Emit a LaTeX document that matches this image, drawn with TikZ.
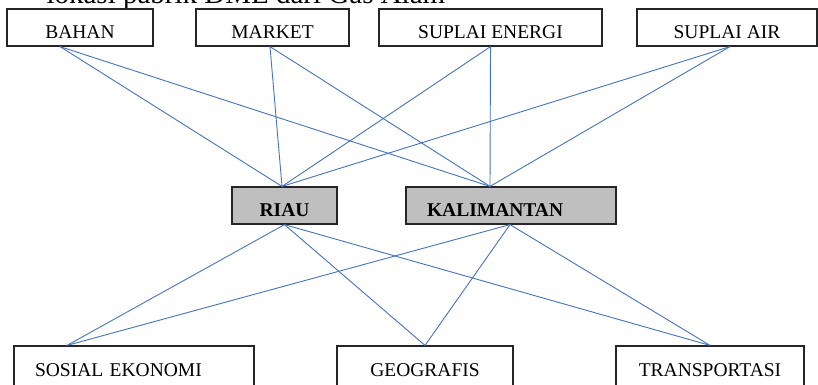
\documentclass[tikz,border=0pt]{standalone}
\usepackage{fontspec}
\setmainfont{Liberation Serif}
\definecolor{linkblue}{HTML}{4472C4}
\definecolor{hubgray}{HTML}{BFBFBF}
\begin{document}
\begin{tikzpicture}[x=1pt, y=-1pt,
    box/.style={draw=black!85, line width=1.2pt, minimum height=37pt,
      font=\fontsize{19.5}{22}\selectfont, text height=21pt, text depth=0pt},
    hub/.style={box, fill=hubgray, font=\fontsize{19.5}{22}\selectfont\bfseries},
    link/.style={draw=linkblue, line width=0.9pt}]
  \useasboundingbox (0,0) rectangle (818,384);
  \clip (0,0) rectangle (818,384);
  \node[anchor=base west, font=\fontsize{29}{34}\selectfont] (title) at (43,3) {lokasi pabrik DME dari Gas Alam};
  \node[box, minimum width=146pt] (bahan) at (80,27.5) {BAHAN};
  \node[box, minimum width=153pt] (market) at (272.5,27.5) {MARKET};
  \node[box, minimum width=223pt] (energi) at (490.5,27.5) {SUPLAI ENERGI};
  \node[box, minimum width=180pt] (air) at (727,27.5) {SUPLAI AIR};
  \node[hub, minimum width=105pt] (riau) at (284.5,205.5) {RIAU};
  \node[hub, minimum width=210pt, inner xsep=21pt, text width=168pt, align=left] (kalimantan) at (511,205.5) {KALIMANTAN};
  \node[box, minimum height=40pt, minimum width=240pt, inner xsep=21pt, text width=198pt, align=left] (sosial) at (134,366) {SOSIAL EKONOMI};
  \node[box, minimum height=40pt, minimum width=176pt] (geografis) at (425,366) {GEOGRAFIS};
  \node[box, minimum height=40pt, minimum width=188pt] (transport) at (710,366) {TRANSPORTASI};
  \foreach \src/\dx in {bahan/-20, market/-2.5, energi/0, air/3} {
    \draw[link] ([xshift=\dx pt]\src.south) -- ([xshift=-2.5pt]riau.north);
    \draw[link] ([xshift=\dx pt]\src.south) -- ([xshift=-21pt]kalimantan.north);
  }
  \foreach \dst/\dx in {sosial/-67, geografis/0, transport/0} {
    \draw[link] (riau.south) -- ([xshift=\dx pt]\dst.north);
    \draw[link] ([xshift=-1pt]kalimantan.south) -- ([xshift=\dx pt]\dst.north);
  }
\end{tikzpicture}
\end{document}
